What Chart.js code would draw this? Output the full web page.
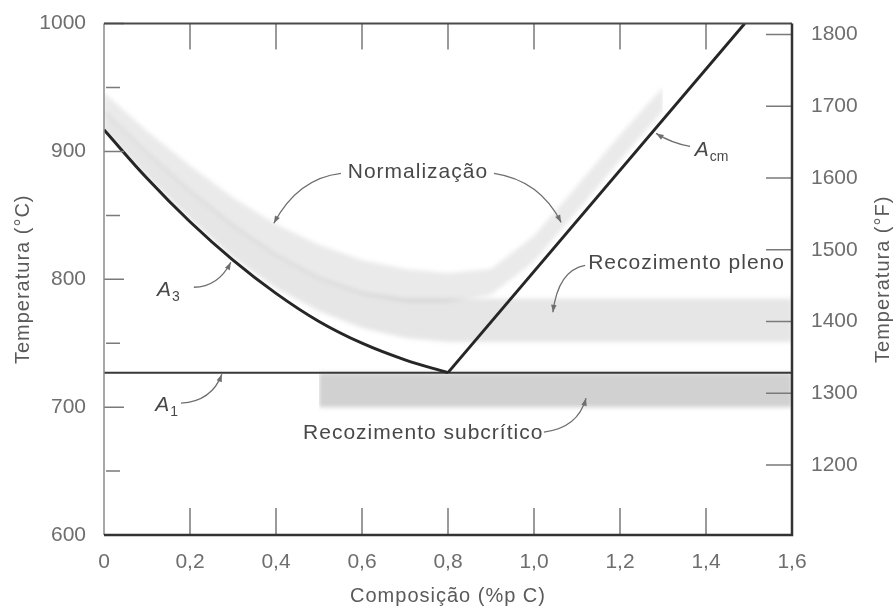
<!DOCTYPE html>
<html>
<head>
<meta charset="utf-8">
<script src="https://cdn.jsdelivr.net/npm/chart.js@4.4.1/dist/chart.umd.min.js"></script>
<style>
  html, body { margin: 0; padding: 0; background: #fff; }
  canvas { display: block; }
</style>
</head>
<body>
<canvas id="chart" width="893" height="609"></canvas>
<script>
// Critical lines of the Fe-C diagram (%p C vs °C)
const A3_X = [0, 0.1, 0.2, 0.3, 0.4, 0.5, 0.6, 0.7, 0.8];
const A3_T = [917, 879, 845, 815, 789, 767, 750, 737, 727];
const ACM_X = [0.8, 1.49];
const ACM_T = [727, 1000];
const A1_X = [0, 1.6];
const A1_T = [727, 727];

// Heat treatment ranges (lower / upper edge of each band)
const NORM_X = [0, 0.1, 0.2, 0.3, 0.4, 0.5, 0.6, 0.7, 0.8, 0.9, 1.0, 1.1, 1.2, 1.3];
const NORM_LOW = [930, 898, 868, 841, 818, 800, 788, 782, 782, 788, 814, 853, 893, 932];
const NORM_HIGH = [946, 916, 889, 864, 843, 827, 815, 808, 805, 808, 834, 873, 913, 950];

const PLENO_X = [0, 0.1, 0.2, 0.3, 0.4, 0.5, 0.6, 0.7, 0.8, 0.9, 1.0, 1.6];
const PLENO_LOW = [917, 880, 847, 817, 793, 775, 762, 754, 751, 751, 751, 751];
const PLENO_HIGH = [932, 900, 870, 843, 820, 802, 790, 785, 785, 785, 785, 785];

const SUB_X = [0.5, 1.6];
const SUB_LOW = [700, 700];
const SUB_HIGH = [727, 727];

// Axes
const X_TICKS = [0, 0.2, 0.4, 0.6, 0.8, 1.0, 1.2, 1.4, 1.6];
const X_LABELS = ['0', '0,2', '0,4', '0,6', '0,8', '1,0', '1,2', '1,4', '1,6'];
const C_TICKS = [600, 700, 800, 900, 1000];
const C_MINOR = [650, 750, 850, 950];
const F_TICKS = [1200, 1300, 1400, 1500, 1600, 1700, 1800];
const F_MIN = 1102.5, F_MAX = 1815.3;

const FONT = 'Liberation Sans, Arial, sans-serif';
const pts = (xs, ys) => xs.map((x, i) => ({ x, y: ys[i] }));

function band(xs, lo, hi, color) {
  return [
    { data: pts(xs, lo), borderWidth: 0, pointRadius: 0, fill: false, band: true },
    { data: pts(xs, hi), borderWidth: 0, pointRadius: 0, fill: '-1', backgroundColor: color, band: true }
  ];
}

// soft edges on the shaded ranges (datasets are drawn last-to-first)
const softBands = {
  id: 'softBands',
  beforeDatasetsDraw(chart) { chart.ctx.filter = 'blur(2px)'; },
  afterDatasetDraw(chart, args) {
    const next = chart.data.datasets[args.index - 1];
    chart.ctx.filter = (next && next.band) ? 'blur(2px)' : 'none';
  },
  afterDatasetsDraw(chart) { chart.ctx.filter = 'none'; }
};

// frame, inward ticks, axis titles and labelled leaders
const decorations = {
  id: 'decorations',
  afterDraw(chart) {
    const ctx = chart.ctx;
    const { x, y, y2 } = chart.scales;
    const { left, right, top, bottom } = chart.chartArea;
    const px = v => x.getPixelForValue(v);
    const py = v => y.getPixelForValue(v);

    ctx.save();
    // ticks
    ctx.strokeStyle = '#7a7a7a';
    ctx.lineWidth = 1.5;
    ctx.beginPath();
    X_TICKS.slice(1, -1).forEach(v => {
      ctx.moveTo(px(v), bottom); ctx.lineTo(px(v), bottom - 27);
      ctx.moveTo(px(v), top); ctx.lineTo(px(v), top + 26);
    });
    C_TICKS.forEach(v => { ctx.moveTo(left, py(v)); ctx.lineTo(left + 20, py(v)); });
    C_MINOR.forEach(v => { ctx.moveTo(left + 2, py(v)); ctx.lineTo(left + 16, py(v)); });
    F_TICKS.forEach(v => {
      const yy = y2.getPixelForValue(v);
      ctx.moveTo(right, yy); ctx.lineTo(right - 26, yy);
    });
    ctx.stroke();

    // frame
    ctx.lineWidth = 1.5;
    ctx.strokeStyle = '#8a8a8a';
    ctx.beginPath(); ctx.moveTo(left, top); ctx.lineTo(left, bottom); ctx.stroke();
    ctx.lineWidth = 2;
    ctx.strokeStyle = '#4a4a4a';
    ctx.beginPath(); ctx.moveTo(left, top); ctx.lineTo(right, top); ctx.stroke();
    ctx.strokeStyle = '#333';
    ctx.lineWidth = 2.5;
    ctx.beginPath(); ctx.moveTo(right, top); ctx.lineTo(right, bottom); ctx.lineTo(left, bottom); ctx.stroke();

    // axis titles
    ctx.fillStyle = '#5a5a5a';
    ctx.font = '20px ' + FONT;
    ctx.letterSpacing = '1px';
    ctx.textAlign = 'center';
    ctx.textBaseline = 'middle';
    ctx.fillText('Composição (%p C)', (left + right) / 2, 596);
    [[23, 'Temperatura (°C)'], [883, 'Temperatura (°F)']].forEach(([cx, t]) => {
      ctx.save();
      ctx.translate(cx, (top + bottom) / 2);
      ctx.rotate(-Math.PI / 2);
      ctx.fillText(t, 0, 0);
      ctx.restore();
    });

    // leaders with arrowheads
    ctx.strokeStyle = '#6e6e6e';
    ctx.fillStyle = '#6e6e6e';
    ctx.lineWidth = 1.3;
    LEADERS.forEach(l => {
      const s = [px(l[0][0]), py(l[0][1])];
      const c = [px(l[1][0]), py(l[1][1])];
      const e = [px(l[2][0]), py(l[2][1])];
      ctx.beginPath();
      ctx.moveTo(s[0], s[1]);
      ctx.quadraticCurveTo(c[0], c[1], e[0], e[1]);
      ctx.stroke();
      const a = Math.atan2(e[1] - c[1], e[0] - c[0]);
      ctx.beginPath();
      ctx.moveTo(e[0], e[1]);
      ctx.lineTo(e[0] - 8 * Math.cos(a - 0.35), e[1] - 8 * Math.sin(a - 0.35));
      ctx.lineTo(e[0] - 8 * Math.cos(a + 0.35), e[1] - 8 * Math.sin(a + 0.35));
      ctx.closePath();
      ctx.fill();
    });

    // labels
    ctx.fillStyle = '#484848';
    ctx.textBaseline = 'middle';
    ctx.font = '21px ' + FONT;
    ctx.textAlign = 'center';
    ctx.fillText('Normalização', px(0.730), py(883.6));
    ctx.textAlign = 'left';
    ctx.fillText('Recozimento pleno', px(1.126), py(812.5));
    ctx.fillText('Recozimento subcrítico', px(0.463), py(679.7));

    ctx.letterSpacing = '0px';
    ctx.textBaseline = 'alphabetic';
    PHASE_LABELS.forEach(([xv, tv, sub]) => {
      const bx = px(xv), by = py(tv);
      ctx.font = 'italic 21px ' + FONT;
      ctx.fillText('A', bx, by);
      const w = ctx.measureText('A').width;
      ctx.font = '14px ' + FONT;
      ctx.fillText(sub, bx + w + 1, by + 5);
    });
    ctx.restore();
  }
};

// [start, control, end] in (%p C, °C)
const LEADERS = [
  [[0.551, 882.8], [0.451, 878.9], [0.395, 843.8]],
  [[0.907, 882.8], [1.014, 877.3], [1.063, 844.5]],
  [[0.209, 793.8], [0.265, 793.8], [0.295, 813.3]],
  [[0.179, 703.1], [0.251, 704.7], [0.274, 725.8]],
  [[1.363, 903.9], [1.321, 906.3], [1.284, 914.1]],
  [[1.119, 810.9], [1.056, 807.0], [1.044, 774.2]],
  [[1.023, 680.5], [1.102, 683.6], [1.121, 707.0]]
];
const PHASE_LABELS = [
  [0.123, 786.7, '3'],
  [0.119, 696.9, '1'],
  [1.374, 896.1, 'cm']
];

const tickFont = { family: FONT, size: 21 };
const plain = v => String(v);

new Chart(document.getElementById('chart'), {
  type: 'line',
  data: {
    datasets: [
      { data: pts(A3_X, A3_T), borderColor: '#262626', borderWidth: 3, pointRadius: 0, tension: 0.4, fill: false },
      { data: pts(ACM_X, ACM_T), borderColor: '#262626', borderWidth: 3, pointRadius: 0, fill: false },
      { data: pts(A1_X, A1_T), borderColor: '#383838', borderWidth: 2, pointRadius: 0, fill: false },
      ...band(NORM_X, NORM_LOW, NORM_HIGH, 'rgba(150,150,150,0.20)'),
      ...band(PLENO_X, PLENO_LOW, PLENO_HIGH, 'rgba(150,150,150,0.24)'),
      ...band(SUB_X, SUB_LOW, SUB_HIGH, 'rgba(140,140,140,0.40)')
    ]
  },
  options: {
    responsive: false,
    animation: false,
    devicePixelRatio: 1,
    layout: { padding: { top: 23 } },
    plugins: { legend: { display: false }, tooltip: { enabled: false } },
    scales: {
      x: {
        type: 'linear', min: 0, max: 1.6,
        afterBuildTicks: s => { s.ticks = X_TICKS.map(v => ({ value: v })); },
        afterFit: s => { s.height = 74; },
        grid: { display: false },
        border: { display: false },
        ticks: { callback: (v, i) => X_LABELS[i], color: '#6e6e6e', font: tickFont, padding: 7, maxRotation: 0, autoSkip: false }
      },
      y: {
        type: 'linear', min: 600, max: 1000, position: 'left',
        afterBuildTicks: s => { s.ticks = C_TICKS.map(v => ({ value: v })); },
        afterFit: s => { s.width = 104; },
        grid: { display: false },
        border: { display: false },
        ticks: { callback: plain, color: '#6e6e6e', font: tickFont, padding: 10 }
      },
      y2: {
        type: 'linear', min: F_MIN, max: F_MAX, position: 'right',
        afterBuildTicks: s => { s.ticks = F_TICKS.map(v => ({ value: v })); },
        afterFit: s => { s.width = 101; },
        grid: { display: false },
        border: { display: false },
        ticks: { callback: plain, color: '#6e6e6e', font: tickFont, padding: 11 }
      }
    }
  },
  plugins: [softBands, decorations]
});
</script>
</body>
</html>
